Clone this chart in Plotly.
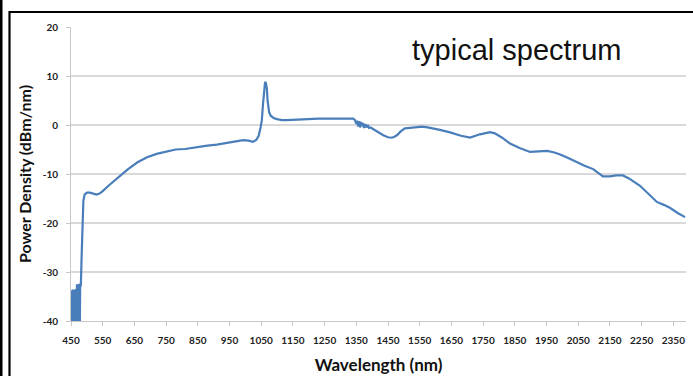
import plotly.graph_objects as go

# ---- data ----
noise_wl = [450, 451, 452, 453, 454, 455, 456, 457, 458, 459, 460, 461, 462, 463, 464, 465,
            466, 467, 468, 469, 470, 471, 472, 473, 474, 475, 476, 477, 478, 479]
noise_pd = [-40, -34.5, -40, -33.8, -40, -33.6, -40, -34.0, -40, -33.6, -40, -33.6, -40, -33.8, -40, -33.5,
            -40, -32.6, -40, -32.5, -40, -32.6, -40, -32.5, -40, -32.5, -40, -32.6, -40, -32.5]

main_wl = [481, 483, 486, 489, 493, 500, 510, 520, 530, 540, 550, 570, 600, 630, 660, 690, 720, 750,
           780, 810, 840, 857, 880, 910, 942, 970, 993, 1010, 1024, 1035, 1042, 1048, 1052, 1056,
           1059, 1062, 1064, 1066, 1068, 1070, 1072, 1075, 1080, 1090, 1100, 1115, 1131, 1160, 1194,
           1230, 1277, 1310, 1340, 1346, 1350, 1353, 1356, 1359, 1362, 1365, 1368, 1371, 1374, 1378,
           1382, 1386, 1390, 1395, 1403, 1420, 1435, 1450, 1462, 1470, 1478, 1490, 1503, 1520, 1541,
           1557, 1575, 1592, 1614, 1646, 1680, 1709, 1740, 1772, 1787, 1810, 1835, 1865, 1898, 1925,
           1952, 1975, 1993, 2020, 2046, 2070, 2097, 2115, 2128, 2150, 2170, 2191, 2210, 2245, 2270,
           2298, 2320, 2339, 2365, 2387]
main_pd = [-33, -28, -20, -15.5, -14.2, -13.8, -13.8, -14.0, -14.2, -14.0, -13.5, -12.3, -10.6, -9.0,
           -7.6, -6.6, -5.9, -5.4, -5.0, -4.9, -4.6, -4.3, -4.2, -4.0, -3.7, -3.4, -3.1, -3.2, -3.45,
           -3.0, -2.2, -0.5, 1.0, 4.5, 7.2, 8.6, 8.8, 8.0, 7.4, 5.0, 3.5, 2.6, 1.9, 1.4, 1.2, 1.0,
           1.0, 1.1, 1.25, 1.3, 1.3, 1.3, 1.3, 1.0, 0.2, 0.9, -0.3, 0.8, -0.5, 0.6, -0.2, 0.4, -0.6,
           0.2, -0.5, 0.0, -0.6, -0.5, -0.8, -1.6, -2.1, -2.5, -2.6, -2.4, -2.1, -1.3, -0.7, -0.6,
           -0.5, -0.35, -0.5, -0.7, -1.0, -1.5, -2.2, -2.55, -1.9, -1.45, -1.7, -2.6, -3.8, -4.7,
           -5.5, -5.4, -5.3, -5.6, -6.0, -6.8, -7.6, -8.3, -9.0, -9.8, -10.5, -10.5, -10.3, -10.3,
           -10.9, -12.4, -14.0, -15.7, -16.3, -16.9, -18.0, -18.8]

wavelength = noise_wl + main_wl
power_density = noise_pd + main_pd

x_ticks = list(range(450, 2351, 100))
y_ticks = [-40, -30, -20, -10, 0, 10, 20]

W, H = 693, 376
L, R, T, B = 71, 7, 27, 55
pw, ph = W - L - R, H - T - B

def px(x):
    return (x - L) / pw

def py(y):
    return (H - B - y) / ph

fig = go.Figure()
fig.add_trace(go.Scatter(x=wavelength, y=power_density, mode="lines",
                         line=dict(color="#4a7ebb", width=2.2), showlegend=False))

tick_font = dict(family="Lato", size=10, color="#222222", weight="bold")
fig.update_layout(
    width=W, height=H,
    margin=dict(l=L, r=R, t=T, b=B, autoexpand=False),
    paper_bgcolor="white", plot_bgcolor="white",
    xaxis=dict(range=[450, 2390], tickvals=x_ticks, ticktext=[str(v) for v in x_ticks],
               automargin=False,
               showgrid=False, zeroline=False, showline=True, linecolor="#c8c8c8", linewidth=1,
               ticks="outside", ticklen=4, tickcolor="#c8c8c8", tickfont=tick_font,
               ticklabelstandoff=6,
               title=dict(text="Wavelength (nm)", standoff=14,
                          font=dict(family="Lato", size=17, color="#111111", weight="bold"))),
    yaxis=dict(range=[-40, 20], tickvals=y_ticks, ticktext=[str(v) for v in y_ticks],
               automargin=False,
               showgrid=True, gridcolor="#d9d9d9", gridwidth=1.5, zeroline=False,
               showline=True, linecolor="#c8c8c8", linewidth=1,
               ticks="outside", ticklen=4, tickcolor="#c8c8c8", tickfont=tick_font,
               ticklabelstandoff=6,
               title=dict(text="Power Density (dBm/nm)", standoff=7,
                          font=dict(family="Lato", size=16, color="#111111", weight="bold"))),
    shapes=[
        dict(type="rect", xref="paper", yref="paper", x0=px(0), x1=px(2.5), y0=py(H), y1=py(0),
             fillcolor="black", line=dict(width=0), layer="above"),
        dict(type="line", xref="paper", yref="paper", x0=px(9.5), x1=px(9.5), y0=py(11), y1=py(H),
             line=dict(color="black", width=2.2)),
        dict(type="line", xref="paper", yref="paper", x0=px(9.5), x1=px(W), y0=py(12), y1=py(12),
             line=dict(color="black", width=2.2)),
    ],
    annotations=[
        dict(text="typical spectrum", xref="paper", yref="paper", x=px(517), y=py(50),
             xanchor="center", yanchor="middle", showarrow=False,
             font=dict(family="Liberation Sans", size=29, color="#111111")),
    ],
)

fig.write_html("out.html")
